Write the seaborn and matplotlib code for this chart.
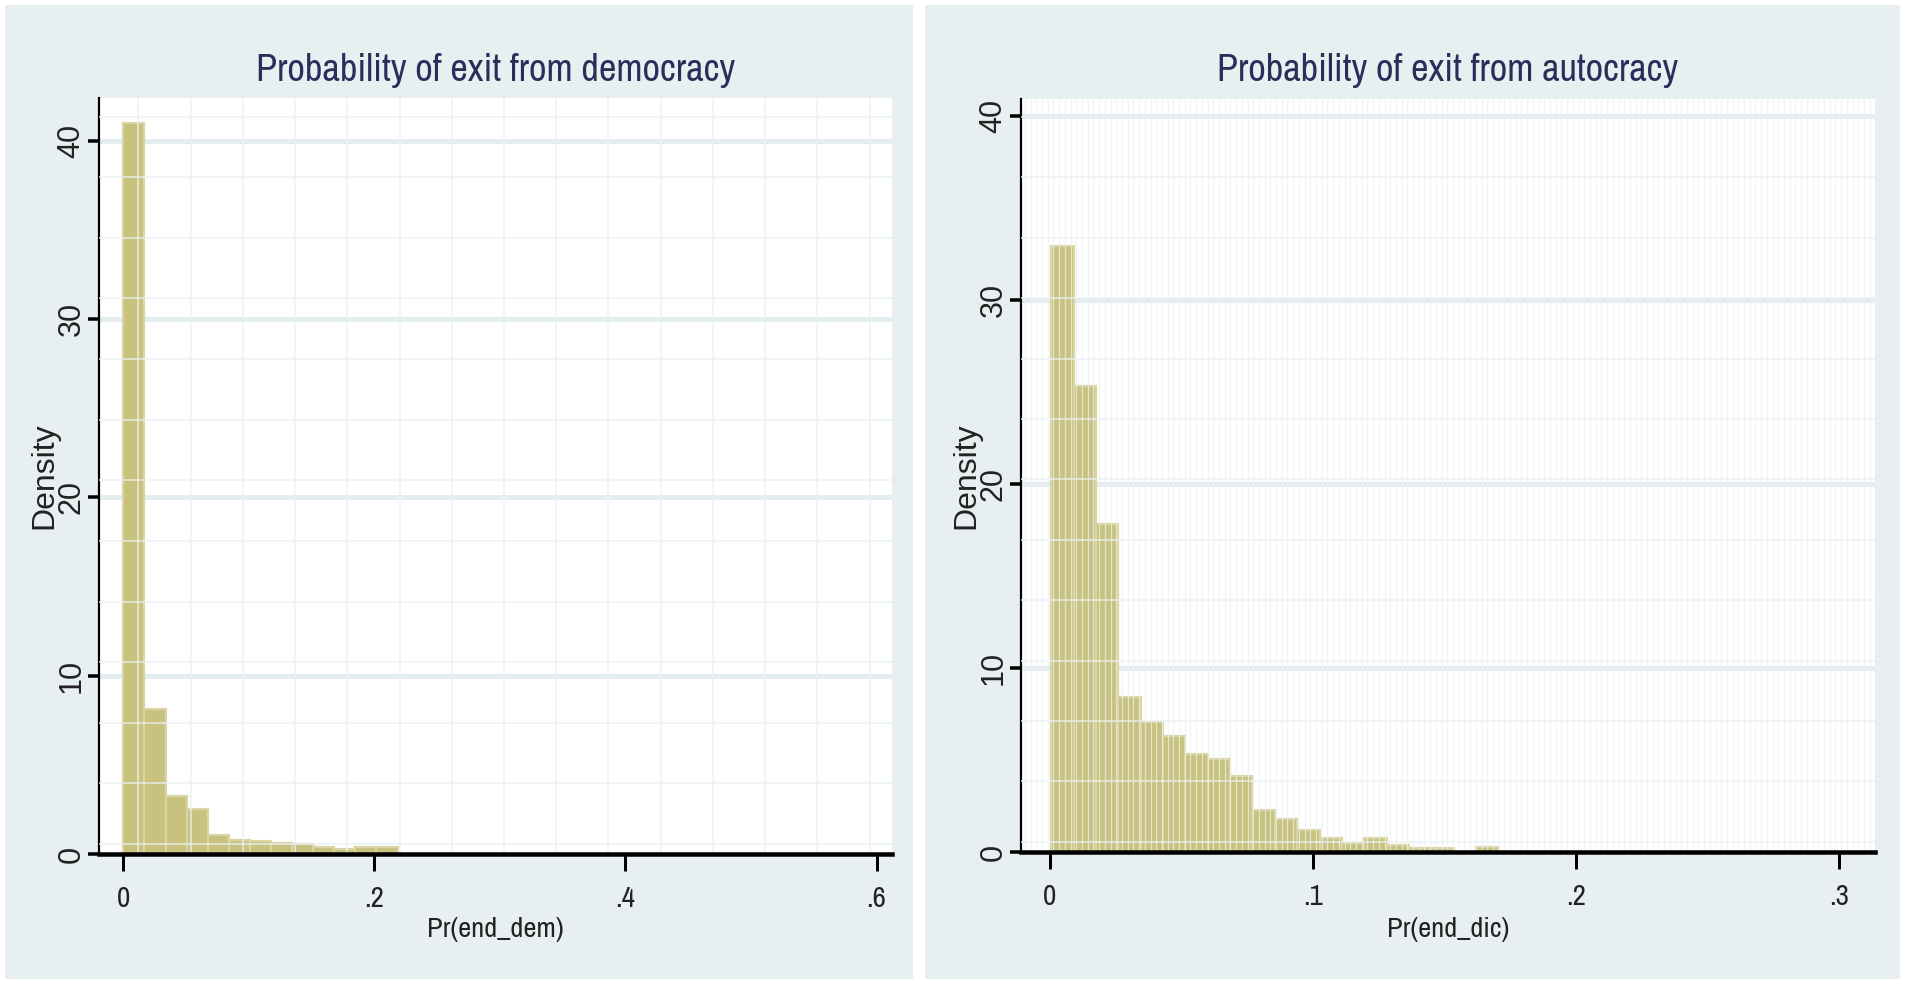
import numpy as np
import pandas as pd
import matplotlib
matplotlib.use("Agg")
import matplotlib.pyplot as plt
from matplotlib.patches import Rectangle
from matplotlib import font_manager as fm
import seaborn as sns

# ---- histogram data (density per bin) ----
dem_bin_start = 0.0
dem_bin_width = 0.0168
dem_density = [41.0, 8.15, 3.25, 2.55, 1.06, 0.78, 0.72, 0.59, 0.56, 0.41, 0.30, 0.41, 0.41]

dic_bin_start = 0.0005
dic_bin_width = 0.0085
dic_density = [32.9, 25.3, 17.8, 8.44, 7.06, 6.29, 5.34, 5.07, 4.12, 2.26,
               1.80, 1.18, 0.76, 0.50, 0.74, 0.40, 0.24, 0.24, 0.0, 0.27]

titles = ["Probability of exit from democracy", "Probability of exit from autocracy"]
xlabels = ["Pr(end_dem)", "Pr(end_dic)"]
ylabel = "Density"
dem_xticks = [0, 0.2, 0.4, 0.6]
dem_xticklabels = ["0", ".2", ".4", ".6"]
dic_xticks = [0, 0.1, 0.2, 0.3]
dic_xticklabels = ["0", ".1", ".2", ".3"]
yticks = [0, 10, 20, 30, 40]
yticklabels = ["0", "10", "20", "30", "40"]

# ---- style ----
W, H, DPI = 1905, 984, 100
PX = 72.0 / DPI  # points per pixel
PANEL_BG = "#e8eff1"
GRID_MAJOR = "#e4edf0"
GRID_FAINT = "#eaf1f3"
BAR_FILL = "#c9c27f"
BAR_EDGE = "#dad5a4"
TITLE_COLOR = "#27305a"
TEXT_COLOR = "#222222"

available = {f.name for f in fm.fontManager.ttflist}


def first_font(prefs, fallback):
    for name in prefs:
        if name in available:
            return name
    return fallback


NARROW_NAME = first_font(["Liberation Sans Narrow", "Arial Narrow", "Archivo Narrow",
                          "PT Sans Narrow", "Roboto Condensed", "Pragati Narrow"],
                         "DejaVu Sans")
REGULAR_NAME = first_font(["Liberation Sans", "Arimo", "Arial"], "DejaVu Sans")
NARROW = [NARROW_NAME, "DejaVu Sans"]
REGULAR = [REGULAR_NAME, "DejaVu Sans"]

sns.set_style("white")
plt.rcParams["font.family"] = REGULAR

fig = plt.figure(figsize=(W / DPI, H / DPI), dpi=DPI, facecolor="white")
renderer = fig.canvas.get_renderer()

# panel backgrounds (pixel boxes: x0, y0, x1, y1 from top-left)
for x0, y0, x1, y1 in [(5, 5, 913, 979), (925, 5, 1900, 979)]:
    fig.patches.append(Rectangle((x0 / W, 1 - y1 / H), (x1 - x0) / W, (y1 - y0) / H,
                                 transform=fig.transFigure, facecolor=PANEL_BG,
                                 edgecolor="none", zorder=-5))


def px_axes(x0, y0, x1, y1):
    return fig.add_axes([x0 / W, 1 - y1 / H, (x1 - x0) / W, (y1 - y0) / H])


def fit_width(txt, target_px, max_size):
    """Shrink a text so that its rendered width is about target_px."""
    txt.set_fontsize(max_size)
    w = txt.get_window_extent(renderer).width
    if w > target_px:
        txt.set_fontsize(max_size * target_px / w)
    return txt.get_fontsize() / max_size


panels = [
    dict(box=(99, 98, 892, 854), start=dem_bin_start, width=dem_bin_width, dens=dem_density,
         xlim=(-0.0194, 0.6123), ylim=(0, 42.4), xticks=dem_xticks, xticklabels=dem_xticklabels,
         vlines=0.012 + 0.0416 * np.arange(15), hlines=0.56 + 3.4 * np.arange(13), vlw=1.8,
         title_w=480, xlabel_w=137),
    dict(box=(1021, 99, 1875, 852), start=dic_bin_start, width=dic_bin_width, dens=dic_density,
         xlim=(-0.011, 0.3137), ylim=(0, 40.9), xticks=dic_xticks, xticklabels=dic_xticklabels,
         vlines=np.arange(-0.0095, 0.3137, 0.00217), hlines=0.56 + 3.28 * np.arange(13), vlw=1.2,
         title_w=462, xlabel_w=125),
]

for i, p in enumerate(panels):
    ax = px_axes(*p["box"])
    ax.set_facecolor("white")
    dens = [float(v) for v in p["dens"]]
    n = len(dens)
    edges = [p["start"] + p["width"] * k for k in range(n + 1)]
    df = pd.DataFrame({"value": [0.5 * (edges[k] + edges[k + 1]) for k in range(n)],
                       "density": dens})
    sns.histplot(data=df, x="value", weights="density", bins=edges, stat="count", ax=ax,
                 color=BAR_FILL, edgecolor=BAR_EDGE, linewidth=2.2 * PX, alpha=1.0, zorder=2)

    ax.set_xlim(*p["xlim"])
    ax.set_ylim(*p["ylim"])

    # major horizontal grid
    ax.set_axisbelow(True)
    ax.yaxis.grid(True, color=GRID_MAJOR, linewidth=5 * PX)
    ax.xaxis.grid(False)

    # faint raster lines over the plot region
    ax.vlines(p["vlines"], 0, 1, transform=ax.get_xaxis_transform(), color=GRID_FAINT,
              linewidth=p["vlw"] * PX, alpha=0.75, zorder=3)
    ax.hlines(p["hlines"], 0, 1, transform=ax.get_yaxis_transform(), color=GRID_FAINT,
              linewidth=1.8 * PX, alpha=0.75, zorder=3)

    # spines
    for s in ["top", "right"]:
        ax.spines[s].set_visible(False)
    ax.spines["left"].set_linewidth(2.2 * PX)
    ax.spines["left"].set_color("black")
    ax.spines["bottom"].set_linewidth(4.5 * PX)
    ax.spines["bottom"].set_color("black")
    ax.spines["bottom"].set_zorder(5)

    x0, y0, x1, y1 = p["box"]

    # title and x label, sized to the widths they occupy
    title = fig.text((x0 + x1) / 2 / W, 1 - 81 / H, titles[i], family=NARROW,
                     color=TITLE_COLOR, ha="center", va="baseline")
    fit_width(title, p["title_w"], 29)
    xl = ax.set_xlabel(xlabels[i], family=NARROW, color=TEXT_COLOR)
    ratio = fit_width(xl, p["xlabel_w"], 20.5)
    ax.xaxis.set_label_coords(0.5, -(917 - y1) / (y1 - y0))

    ax.set_xticks(p["xticks"])
    ax.set_xticklabels(p["xticklabels"], family=NARROW, fontsize=21 * ratio, color=TEXT_COLOR)
    ax.set_yticks(yticks)
    ax.set_yticklabels(yticklabels, family=REGULAR, fontsize=22, color=TEXT_COLOR,
                       rotation=90, va="center")
    ax.tick_params(axis="x", direction="out", length=17 * PX, width=3 * PX, pad=14 * PX,
                   color="black", bottom=True)
    ax.tick_params(axis="y", direction="out", length=11 * PX, width=3.5 * PX, pad=1.5 * PX,
                   color="black", left=True)

    ax.set_ylabel(ylabel, family=REGULAR, fontsize=23, color=TEXT_COLOR)
    ax.yaxis.set_label_coords(-40 / (x1 - x0), 0.5)

fig.savefig("out.png", dpi=DPI, facecolor="white")
